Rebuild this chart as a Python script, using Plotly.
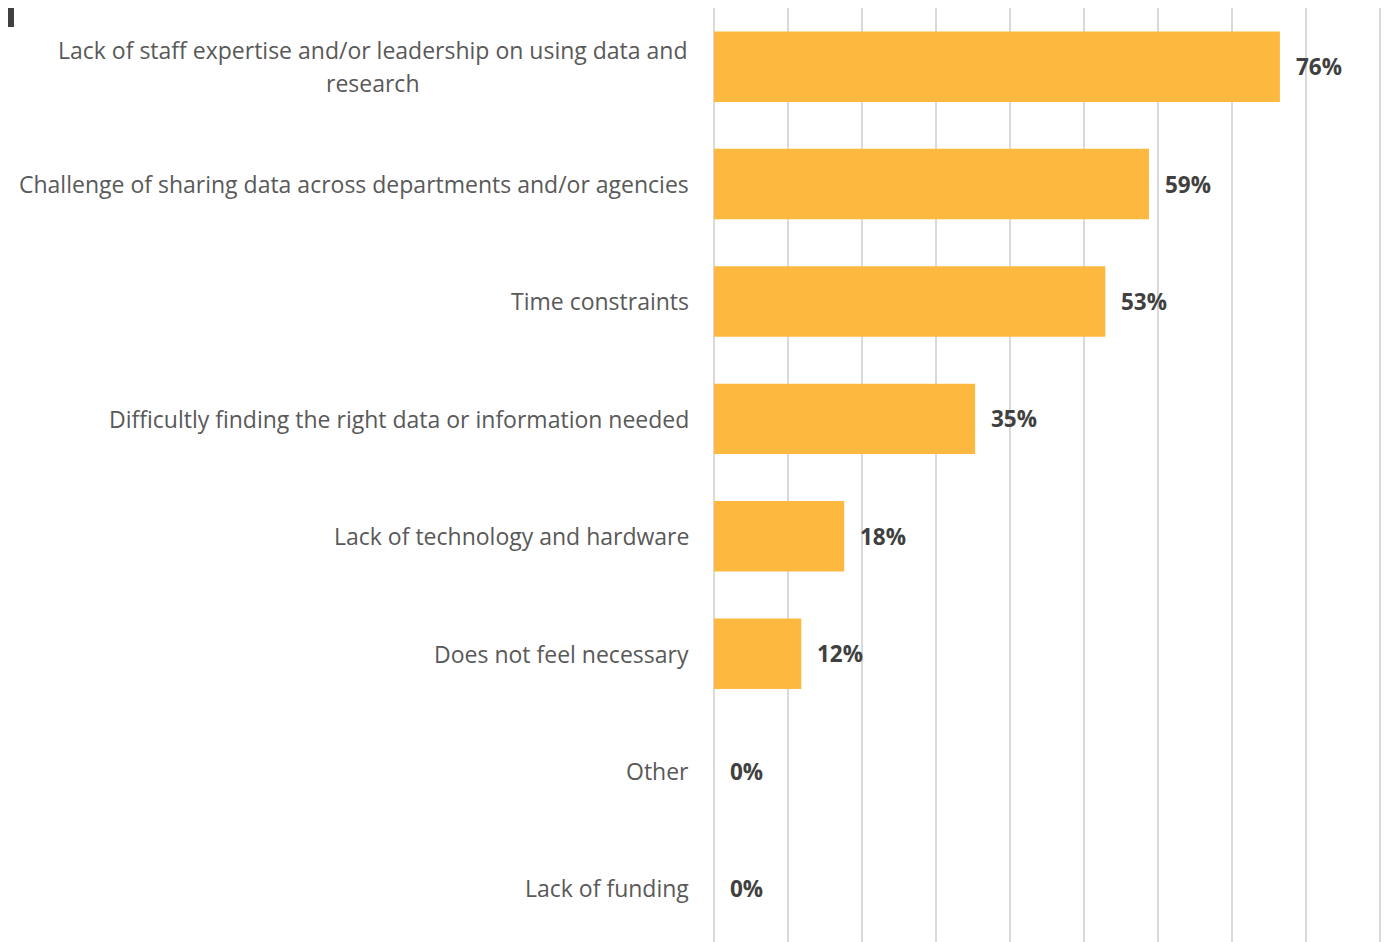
import plotly.graph_objects as go

categories = [
    "Lack of staff expertise and/or leadership on using data and<br>research",
    "Challenge of sharing data across departments and/or agencies",
    "Time constraints",
    "Difficultly finding the right data or information needed",
    "Lack of technology and hardware",
    "Does not feel necessary",
    "Other",
    "Lack of funding",
]
values = [0.765, 0.588, 0.529, 0.353, 0.176, 0.118, 0.0, 0.0]
value_labels = ["76%", "59%", "53%", "35%", "18%", "12%", "0%", "0%"]

W, H = 1392, 942
L, R, T, B = 706, 18, 0, 8
X_MAX = 0.903
FONT = "Open Sans, Noto Sans, sans-serif"

fig = go.Figure()
fig.add_trace(go.Bar(
    x=values, y=list(range(len(categories))), orientation="h",
    marker=dict(color="#FDB93F", line=dict(width=0)),
    width=0.6, hoverinfo="skip",
))

annotations = []
for i, (c, v, t) in enumerate(zip(categories, values, value_labels)):
    lines = c.split("<br>")
    n = len(lines)
    for k, ln in enumerate(lines):
        if n > 1:
            anchor, shift = "center", -341
        else:
            anchor, shift = "right", -23
        annotations.append(dict(
            x=0, xref="paper", y=i, yref="y", text=ln, showarrow=False,
            xanchor=anchor, align="center", xshift=shift,
            yshift=((n - 1) / 2 - k) * 33,
            font=dict(family=FONT, size=23, color="#595959"),
        ))
    annotations.append(dict(
        x=v, xref="x", y=i, yref="y", text="<b>" + t + "</b>", showarrow=False,
        xanchor="left", xshift=14,
        font=dict(family=FONT, size=22.5, color="#404040"),
    ))

fig.update_layout(
    width=W, height=H,
    margin=dict(l=L, r=R, t=T, b=B),
    plot_bgcolor="white", paper_bgcolor="white",
    showlegend=False,
    annotations=annotations,
    xaxis=dict(range=[0, X_MAX], dtick=0.1, showgrid=True, gridcolor="#D9D9D9",
               gridwidth=1.5, showticklabels=False, zeroline=True,
               zerolinecolor="#D9D9D9", zerolinewidth=1.5, showline=False, ticks=""),
    yaxis=dict(range=[7.456, -0.5], showticklabels=False, showgrid=False,
               zeroline=False, showline=False, ticks=""),
    shapes=[dict(type="rect", xref="paper", yref="paper",
                 x0=(0 - L) / (W - L - R), x1=(6 - L) / (W - L - R),
                 y0=1 - 19 / (H - T - B), y1=1.0,
                 fillcolor="#404040", line=dict(width=0))],
)

fig.write_html("out.html")
